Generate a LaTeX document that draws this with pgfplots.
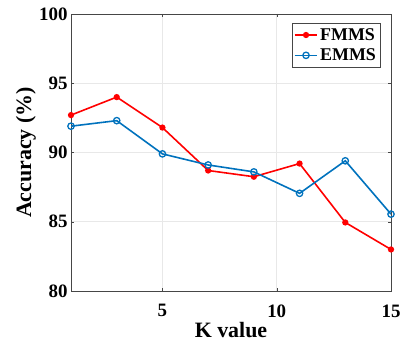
\documentclass[border=0pt]{standalone}
\usepackage{pgfplots}
\pgfplotsset{compat=1.18}
\usepackage{fontspec}
\setmainfont{Liberation Serif}
\definecolor{mblue}{rgb}{0,0.447,0.741}
\begin{document}
\begin{tikzpicture}
\begin{axis}[
  name=ax,
  scale only axis,
  width=320bp, height=277bp,
  xmin=1, xmax=15, ymin=80, ymax=100,
  xtick={5,10,15}, ytick={80,85,90,95,100},
  grid=major,
  grid style={gray!18, line width=0.6pt},
  axis line style={gray!55!black, line width=0.7pt},
  tick style={gray!55!black},
  tick align=inside,
  major tick length=3pt,
  ticklabel style={font=\fontsize{19}{19}\selectfont\bfseries},
  xticklabel style={yshift=-10bp},
  /pgf/number format/assume math mode=true,
  xlabel={K value}, ylabel={Accuracy (\%)},
  label style={font=\fontsize{22}{22}\selectfont\bfseries},
  xlabel style={at={(axis description cs:0.5,-0.142)}, anchor=center, inner sep=0pt},
  ylabel style={at={(axis description cs:-0.1406,0.5)}, anchor=center},
  legend style={at={(0.966,0.967)}, anchor=north east, draw=gray!55!black,
    font=\fontsize{18}{18}\selectfont\bfseries, row sep=5pt, inner xsep=2pt, inner ysep=4pt,
    nodes={inner xsep=2pt, inner ysep=1pt}},
  legend cell align=left,
  legend image code/.code={\draw[mark repeat=2,mark phase=2] plot coordinates {(0cm,0cm) (0.4cm,0cm) (0.8cm,0cm)};},
]
\addplot[red, line width=1.6pt, mark=*, mark size=2.3pt] coordinates {
 (1,92.7) (3,94.0) (5,91.8) (7,88.7) (9,88.25) (11,89.2) (13,84.95) (15,83.0)};
\addlegendentry{FMMS}
\addplot[mblue, line width=1.6pt, mark=o, mark size=3.2pt, mark options={line width=1.3pt}] coordinates {
 (1,91.9) (3,92.3) (5,89.9) (7,89.1) (9,88.6) (11,87.05) (13,89.4) (15,85.55)};
\addlegendentry{EMMS}
\end{axis}
\pgfresetboundingbox
\path ([shift={(-71bp,-50bp)}]ax.south west) rectangle ([shift={(14bp,14bp)}]ax.north east);
\end{tikzpicture}
\end{document}
